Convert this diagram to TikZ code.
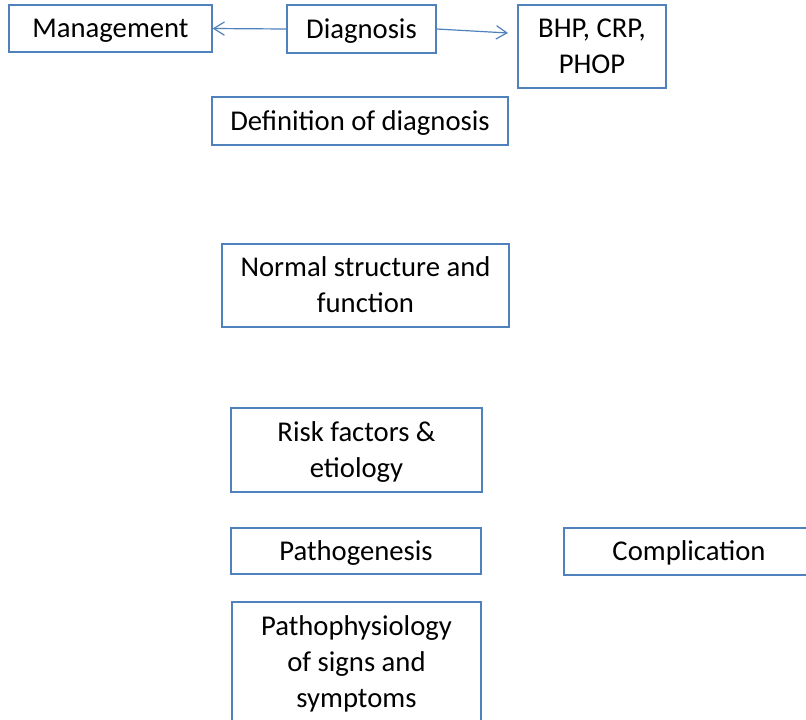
\documentclass[tikz,border=0pt]{standalone}
\usepackage{fontspec}
\setmainfont{Carlito}
\usetikzlibrary{arrows.meta}
\definecolor{boxblue}{HTML}{4F81BD}
\tikzset{
  box/.style={draw=boxblue, line width=1pt, fill=white, inner sep=0pt, align=center,
    font=\fontsize{21.5}{27}\selectfont, text=black, text height=14pt, text depth=0pt},
  twoline/.style={text height=41pt},
  threeline/.style={text height=68pt},
  arr/.style={draw=boxblue, line width=0.9pt, -{Straight Barb[length=8pt,width=10pt,line width=0.9pt]}}
}
\begin{document}
\begin{tikzpicture}[x=0.75pt,y=-0.75pt]
\useasboundingbox (0,0) rectangle (806,719);
\begin{scope}
\clip (0,0) rectangle (806,719);
\node[box, minimum width=203*0.75pt, minimum height=47*0.75pt] (mgmt) at (110.5,28.5) {Management};
\node[box, minimum width=149*0.75pt, minimum height=48*0.75pt] (diag) at (361.5,29) {Diagnosis};
\node[box, twoline, minimum width=148*0.75pt, minimum height=83*0.75pt] (bhp) at (592,46.5) {BHP, CRP,\\PHOP};
\node[box, minimum width=296*0.75pt, minimum height=48*0.75pt] (defn) at (360,121) {Definition of diagnosis};
\node[box, twoline, minimum width=287*0.75pt, minimum height=83*0.75pt] (norm) at (365.5,285.5) {Normal structure and\\function};
\node[box, twoline, minimum width=251*0.75pt, minimum height=84*0.75pt] (risk) at (356.5,450) {Risk factors \&\\etiology};
\node[box, minimum width=250*0.75pt, minimum height=46*0.75pt] (patho) at (356,551) {Pathogenesis};
\node[box, minimum width=250*0.75pt, minimum height=47*0.75pt] (comp) at (689,551.5) {Complication};
\node[box, threeline, minimum width=249*0.75pt, minimum height=120*0.75pt] (physio) at (356.5,662) {Pathophysiology\\of signs and\\symptoms};
\coordinate (bhpend) at (508,33);
\draw[arr] (diag.west) -- (mgmt.east);
\draw[arr] (diag.east) -- (bhpend);
\end{scope}
\end{tikzpicture}
\end{document}
